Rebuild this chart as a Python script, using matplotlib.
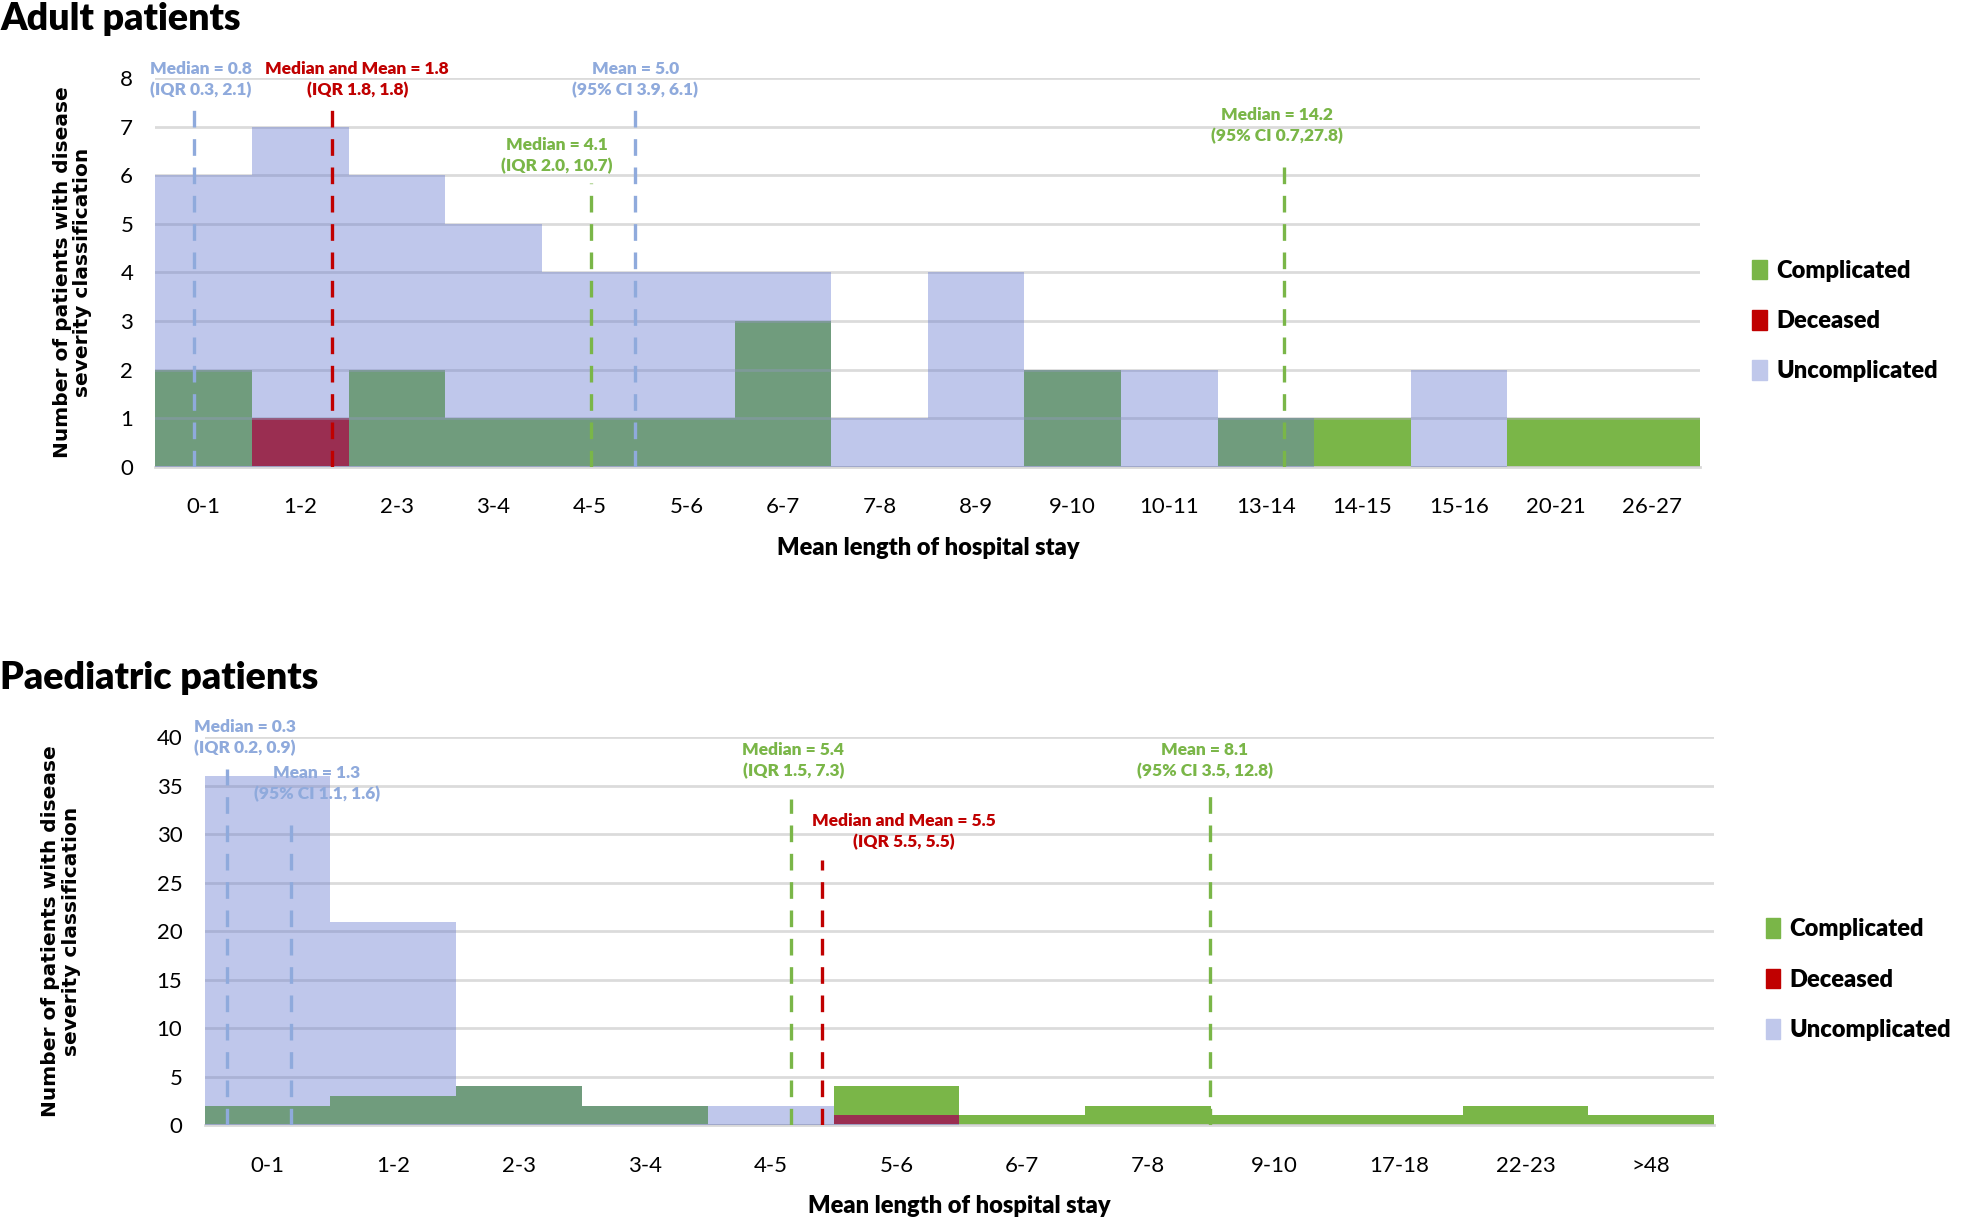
import matplotlib.pyplot as plt
from matplotlib.patches import Patch

# ---- data ----
adult_cats = ["0-1", "1-2", "2-3", "3-4", "4-5", "5-6", "6-7", "7-8", "8-9",
              "9-10", "10-11", "13-14", "14-15", "15-16", "20-21", "26-27"]
adult_uncomplicated = [6, 7, 6, 5, 4, 4, 4, 1, 4, 2, 2, 1, 0, 2, 0, 0]
adult_complicated = [2, 0, 2, 1, 1, 1, 3, 0, 0, 2, 0, 1, 1, 0, 1, 1]
adult_deceased = [0, 1, 0, 0, 0, 0, 0, 0, 0, 0, 0, 0, 0, 0, 0, 0]

paed_cats = ["0-1", "1-2", "2-3", "3-4", "4-5", "5-6", "6-7", "7-8",
             "9-10", "17-18", "22-23", ">48"]
paed_uncomplicated = [36, 21, 4, 2, 2, 1, 0, 0, 0, 0, 0, 0]
paed_complicated = [2, 3, 4, 2, 0, 4, 1, 2, 1, 1, 2, 1]
paed_deceased = [0, 0, 0, 0, 0, 1, 0, 0, 0, 0, 0, 0]

# summary lines: position on category axis, top of line, colour key
adult_line_x = [-0.10, 1.33, 4.01, 4.47, 11.19]
adult_line_top = [7.4, 7.4, 5.85, 7.4, 6.35]
adult_line_kind = ["unc", "dec", "comp", "unc", "comp"]
adult_label_text = ["Median = 0.8\n(IQR 0.3, 2.1)",
                    "Median and Mean = 1.8\n(IQR 1.8, 1.8)",
                    "Median = 4.1\n(IQR 2.0, 10.7)",
                    "Mean = 5.0\n(95% CI 3.9, 6.1)",
                    "Median = 14.2\n(95% CI 0.7,27.8)"]
adult_label_x = [-0.03, 1.59, 3.66, 4.47, 11.11]
adult_label_y = [7.97, 7.97, 6.40, 7.97, 7.02]

paed_line_x = [-0.32, 0.19, 4.16, 4.41, 7.49]
paed_line_top = [36.8, 31.7, 33.7, 27.4, 34.8]
paed_line_kind = ["unc", "unc", "comp", "dec", "comp"]
paed_label_text = ["Median = 0.3\n(IQR 0.2, 0.9)",
                   "Mean = 1.3\n(95% CI 1.1, 1.6)",
                   "Median = 5.4\n(IQR 1.5, 7.3)",
                   "Median and Mean = 5.5\n(IQR 5.5, 5.5)",
                   "Mean = 8.1\n(95% CI 3.5, 12.8)"]
paed_label_x = [-0.18, 0.39, 4.18, 5.06, 7.45]
paed_label_y = [40.0, 35.2, 37.6, 30.3, 37.6]

GREEN = "#7AB648"
RED = "#C00000"
LAV_VIS = "#C0C8EB"
LAV_BASE = (97 / 255, 117 / 255, 205 / 255)
LINE_COL = {"unc": "#8FAADC", "dec": "#C00000", "comp": "#7AB648"}

plt.rcParams["font.family"] = ["Lato", "DejaVu Sans"]


def draw_panel(ax, cats, unc, comp, dec, lx, ltop, lkind, ltext, tx, ty, ymax, ystep):
    x = list(range(len(cats)))
    ax.bar(x, comp, width=1.0, color=GREEN, zorder=2)
    ax.bar(x, dec, width=1.0, color=RED, zorder=2)
    ax.bar(x, unc, width=1.0, color=LAV_BASE, alpha=0.4, zorder=3)

    for xi, top, kind in zip(lx, ltop, lkind):
        ax.plot([xi, xi], [0, top], color=LINE_COL[kind], lw=2.4,
                dashes=(5, 3.5), zorder=5)
    for t, xi, yi, kind in zip(ltext, tx, ty, lkind):
        ax.text(xi, yi, t, color=LINE_COL[kind], ha="center", va="center",
                fontsize=12.5, fontweight="heavy", linespacing=1.35, zorder=6)

    ax.set_xlim(-0.5, len(cats) - 0.5)
    ax.set_ylim(0, ymax)
    ax.set_yticks(range(0, ymax + 1, ystep))
    ax.set_xticks(x)
    ax.set_xticklabels(cats)
    ax.grid(axis="y", color="#B0B0B0", lw=2, alpha=0.45, zorder=4)
    ax.set_axisbelow(False)
    for s in ["top", "right", "left"]:
        ax.spines[s].set_visible(False)
    ax.spines["bottom"].set_color("#D9D9D9")
    ax.spines["bottom"].set_linewidth(2)
    ax.tick_params(axis="both", length=0, labelsize=16)
    ax.tick_params(axis="x", pad=22)
    ax.tick_params(axis="y", pad=16)
    ax.set_xlabel("Mean length of hospital stay", fontsize=17, fontweight="heavy",
                  labelpad=14)
    ax.set_ylabel("Number of patients with disease\nseverity classification",
                  fontsize=14.5, fontweight="bold", family="DejaVu Sans",
                  linespacing=1.1)

    handles = [Patch(color=GREEN), Patch(color=RED), Patch(color=LAV_VIS)]
    ax.legend(handles, ["Complicated", "Deceased", "Uncomplicated"],
              loc="center left", bbox_to_anchor=(1.02, 0.375), frameon=False,
              prop={"size": 17, "weight": "heavy"}, handlelength=0.6,
              handleheight=0.9, handletextpad=0.4, labelspacing=1.2)


fig = plt.figure(figsize=(19.68, 12.19), dpi=100)

ax1 = fig.add_axes([0.079, 0.617, 0.785, 0.319])
draw_panel(ax1, adult_cats, adult_uncomplicated, adult_complicated, adult_deceased,
           adult_line_x, adult_line_top, adult_line_kind, adult_label_text,
           adult_label_x, adult_label_y, 8, 1)
ax1.yaxis.set_label_coords(-0.041, 0.5)

ax2 = fig.add_axes([0.104, 0.077, 0.767, 0.318])
draw_panel(ax2, paed_cats, paed_uncomplicated, paed_complicated, paed_deceased,
           paed_line_x, paed_line_top, paed_line_kind, paed_label_text,
           paed_label_x, paed_label_y, 40, 5)
ax2.yaxis.set_label_coords(-0.082, 0.5)

fig.text(0.0, 1 - 15 / 971, "Adult patients", fontsize=27, fontweight="heavy",
         ha="left", va="center")
fig.text(0.0, 1 - 540 / 971, "Paediatric patients", fontsize=27, fontweight="heavy",
         ha="left", va="center")

fig.savefig("out.png", dpi=100)
